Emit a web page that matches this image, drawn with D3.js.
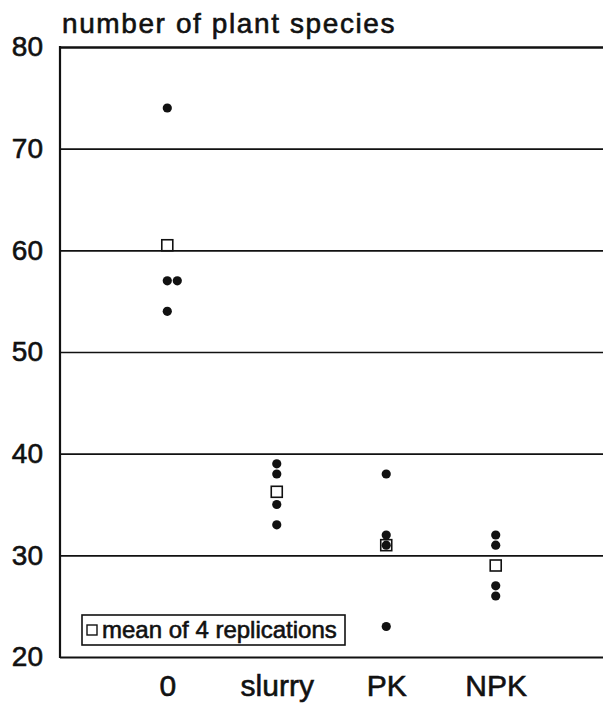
<!DOCTYPE html>
<html>
<head>
<meta charset="utf-8">
<script src="https://cdn.jsdelivr.net/npm/d3@7"></script>
<style>
  body { margin: 0; background: #fff; }
  text { font-family: "Liberation Sans", Arial, Helvetica, sans-serif; fill: #111; stroke: #111; stroke-width: 0.6px; }
</style>
</head>
<body>
<svg id="chart" width="603" height="706"></svg>
<script>
// treatments and the four replications of each
const treatments = ["0", "slurry", "PK", "NPK"]
const replications = [
  [74, 57, 57, 54],
  [39, 38, 35, 33],
  [38, 32, 31, 23],
  [32, 31, 27, 26]
]
const yTicks = [20, 30, 40, 50, 60, 70, 80]
const titleText = "number of plant species"
const legendText = "mean of 4 replications"

const W = 603, H = 706
const margin = {top: 47, right: 0, bottom: 49, left: 60}

const svg = d3.select("#chart")

const x = d3.scalePoint()
  .domain(treatments)
  .range([margin.left, W - margin.right])
  .padding(0.98)

const y = d3.scaleLinear()
  .domain([20, 80])
  .range([H - margin.bottom, margin.top])

// gridlines + y labels
const yAxis = svg.append("g")
  .attr("transform", "translate(" + margin.left + ",0)")
  .call(d3.axisLeft(y).tickValues(yTicks).tickSize(-(W - margin.left)).tickPadding(17))
yAxis.select(".domain").remove()
yAxis.selectAll(".tick line")
  .attr("stroke", "#111")
  .attr("stroke-width", d => d == 80 ? 2.6 : (d == 20 ? 2.2 : 1.6))
yAxis.selectAll(".tick text")
  .style("font-size", "28px")
  .attr("fill", "#111")

// left axis line
svg.append("line")
  .attr("x1", margin.left).attr("x2", margin.left)
  .attr("y1", y(80) - 1).attr("y2", y(20) + 1)
  .attr("stroke", "#111").attr("stroke-width", 2.2)

// x category labels
const xAxis = svg.append("g")
  .attr("transform", "translate(0," + y(20) + ")")
  .call(d3.axisBottom(x).tickSize(0).tickPadding(18))
xAxis.select(".domain").remove()
xAxis.selectAll(".tick text")
  .style("font-size", "30px")
  .attr("fill", "#111")

// title
svg.append("text")
  .attr("x", 62)
  .attr("y", 33)
  .style("font-size", "28px")
  .style("letter-spacing", "1.6px")
  .text(titleText)

// mean squares (drawn first so dots sit on top)
const sq = 11
const means = replications.map(r => d3.mean(r))
svg.append("g").selectAll("rect")
  .data(means)
  .join("rect")
  .attr("x", (d, i) => x(treatments[i]) - sq / 2)
  .attr("y", d => y(d) - sq / 2)
  .attr("width", sq)
  .attr("height", sq)
  .attr("fill", "#fff")
  .attr("stroke", "#111")
  .attr("stroke-width", 1.6)

// replication dots, repeated values nudged to the right
const pts = []
replications.forEach(function(r, i){
  let seen = {}
  r.forEach(function(v){
    let k = seen[v] || 0
    seen[v] = k + 1
    pts.push({t: treatments[i], v: v, k: k})
  })
})
svg.append("g").selectAll("circle")
  .data(pts)
  .join("circle")
  .attr("cx", d => x(d.t) + d.k * 10)
  .attr("cy", d => y(d.v))
  .attr("r", 4.6)
  .attr("fill", "#111")

// legend
const lg = svg.append("g").attr("transform", "translate(82,615)")
lg.append("rect")
  .attr("width", 263).attr("height", 30)
  .attr("fill", "#fff")
  .attr("stroke", "#111").attr("stroke-width", 1.6)
lg.append("rect")
  .attr("x", 5).attr("y", 10)
  .attr("width", 10).attr("height", 10)
  .attr("fill", "#fff")
  .attr("stroke", "#111").attr("stroke-width", 1.4)
lg.append("text")
  .attr("x", 20).attr("y", 23)
  .style("font-size", "24px")
  .text(legendText)
</script>
</body>
</html>
